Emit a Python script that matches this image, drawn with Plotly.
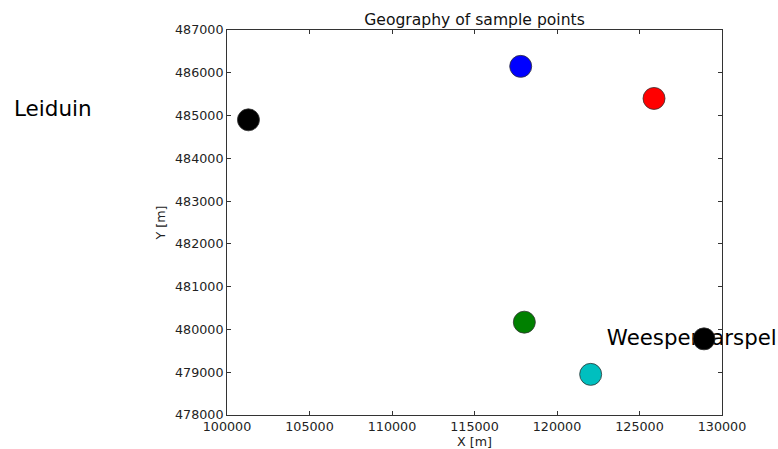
import plotly.graph_objects as go

# Sample point coordinates
x_vals = [101300, 117800, 125880, 118020, 122040, 128910]
y_vals = [484900, 486150, 485400, 480170, 478950, 479780]
colors = ["#000000", "#0000ff", "#ff0000", "#008000", "#00bfbf", "#000000"]

# Station labels (positioned at text centres)
label_text = ["Leiduin", "Weesperkarspel"]
label_x = [89450, 128170]
label_y = [485170, 479770]

x_ticks = [100000, 105000, 110000, 115000, 120000, 125000, 130000]
y_ticks = [478000, 479000, 480000, 481000, 482000, 483000, 484000, 485000, 486000, 487000]

X_RANGE = [100000, 130000]
Y_RANGE = [478000, 487000]

fig = go.Figure()

# label lying under a marker: drawn as a text trace before the markers
fig.add_trace(go.Scatter(
    x=label_x[1:], y=label_y[1:], mode="text", text=label_text[1:],
    textposition="middle center",
    textfont=dict(family="DejaVu Sans", size=21.3, color="#000000"),
    cliponaxis=False, showlegend=False, hoverinfo="skip",
))

fig.add_trace(go.Scatter(
    x=x_vals, y=y_vals, mode="markers",
    marker=dict(size=22, color=colors, line=dict(color="#333333", width=0.8)),
    cliponaxis=False, showlegend=False,
))

# label outside the axes range: convert its data position to paper fractions
fig.add_annotation(
    x=(label_x[0] - X_RANGE[0]) / (X_RANGE[1] - X_RANGE[0]),
    y=(label_y[0] - Y_RANGE[0]) / (Y_RANGE[1] - Y_RANGE[0]),
    xref="paper", yref="paper", text=label_text[0],
    showarrow=False, xanchor="center", yanchor="middle",
    font=dict(family="DejaVu Sans", size=21.5, color="#000000"),
)

axis_common = dict(
    showline=True, linecolor="#333333", linewidth=1,
    mirror="ticks", ticks="inside", ticklen=4, tickwidth=1, tickcolor="#333333",
    showgrid=False, zeroline=False,
    tickfont=dict(family="DejaVu Sans", size=12.7, color="#222222"),
    tickformat="d",
)

fig.update_xaxes(
    range=X_RANGE, tickvals=x_ticks,
    title=dict(text="X [m]", font=dict(family="DejaVu Sans", size=12.7, color="#222222"), standoff=2),
    **axis_common,
)
fig.update_yaxes(
    range=Y_RANGE, tickvals=y_ticks,
    title=dict(text="Y [m]", font=dict(family="DejaVu Sans", size=12.7, color="#222222"), standoff=6),
    **axis_common,
)

fig.update_layout(
    width=778, height=449,
    margin=dict(l=227, r=56, t=30, b=34, autoexpand=False),
    paper_bgcolor="white", plot_bgcolor="white",
    title=dict(text="Geography of sample points", x=0.5, xref="paper", xanchor="center",
               y=1 - 20 / 449, yanchor="middle", yref="container",
               font=dict(family="DejaVu Sans", size=15.6, color="#111111")),
)

fig.write_html("out.html")
